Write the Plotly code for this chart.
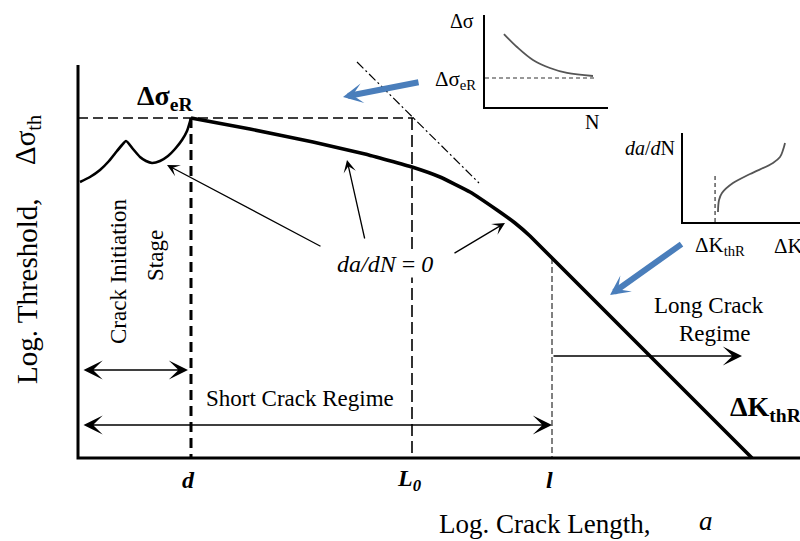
import plotly.graph_objects as go

# ---------------- data (schematic units; origin at the main axes corner) ----------------
# crack-initiation stage curve
init_x = [2, 12, 22, 31, 39, 44, 48, 55, 62, 68, 74, 82, 90, 97, 104, 109, 113]
init_y = [276, 281, 288, 297, 307, 313, 317, 309, 301, 297, 295, 297, 302, 309, 318, 327, 340]
# threshold curve (short crack -> long crack)
main_x = [113, 172, 235, 287, 334, 362, 392, 419, 437, 452, 674]
main_y = [340, 329, 316, 304, 291, 281, 266, 248, 235, 222, 0]
# characteristic values
sigma_eR_level = 340
crack_d = 113
crack_L0 = 334
crack_l = 474
crack_l_level = 200
tangent_x = [279, 401]
tangent_y = [396, 275]
axis_x_end = 722
axis_y_end = 393
tick_pos = [crack_d, crack_L0, crack_l]
tick_text = ["<b><i>d</i></b>", "<b><i>L<sub>0</sub></i></b>", "<b><i>l</i></b>"]

# inset 1: S-N curve
sn_N = [1.54, 2.60, 3.90, 5.28, 6.67, 8.78]
sn_S = [7.93, 6.52, 5.11, 4.24, 3.70, 3.37]
sn_limit = 3.15
sn_limit_end = 9.1
# inset 2: da/dN vs dK
dk = [2.99, 3.08, 3.33, 4.27, 5.73, 7.69, 8.29, 8.55, 8.72]
dadn = [1.12, 2.47, 3.26, 4.38, 5.39, 6.63, 7.30, 8.10, 8.88]
dk_th = 2.74
dk_th_top = 5.5

FONT = "Liberation Serif, Times New Roman, serif"
BLUE = "#4a7ebb"

fig = go.Figure()

# main curves
fig.add_trace(go.Scatter(x=init_x, y=init_y, mode="lines",
                         line=dict(color="black", width=2.6, shape="spline", smoothing=0.6)))
fig.add_trace(go.Scatter(x=main_x, y=main_y, mode="lines",
                         line=dict(color="black", width=3.6, shape="spline", smoothing=0.3)))
# reference lines
fig.add_trace(go.Scatter(x=[0, crack_L0 + 2], y=[sigma_eR_level, sigma_eR_level], mode="lines",
                         line=dict(color="black", width=1.5, dash="10px,5px")))
fig.add_trace(go.Scatter(x=[crack_d, crack_d], y=[sigma_eR_level, 0], mode="lines",
                         line=dict(color="black", width=3, dash="10px,6px")))
fig.add_trace(go.Scatter(x=[crack_L0, crack_L0], y=[sigma_eR_level, 0], mode="lines",
                         line=dict(color="black", width=1.6, dash="12px,5px")))
fig.add_trace(go.Scatter(x=[crack_l, crack_l], y=[crack_l_level, 0], mode="lines",
                         line=dict(color="black", width=1, dash="6px,3px")))
fig.add_trace(go.Scatter(x=tangent_x, y=tangent_y, mode="lines",
                         line=dict(color="black", width=1.2, dash="9px,3px,2px,3px")))
# main axes
fig.add_trace(go.Scatter(x=[0, 0, axis_x_end], y=[axis_y_end, 0, 0], mode="lines",
                         line=dict(color="black", width=3)))

# inset 1
fig.add_trace(go.Scatter(x=sn_N, y=sn_S, mode="lines", xaxis="x2", yaxis="y2",
                         line=dict(color="#555555", width=1.8, shape="spline")))
fig.add_trace(go.Scatter(x=[0, sn_limit_end], y=[sn_limit, sn_limit], mode="lines", xaxis="x2", yaxis="y2",
                         line=dict(color="#333333", width=1.2, dash="4px,3px")))
# inset 2
fig.add_trace(go.Scatter(x=dk, y=dadn, mode="lines", xaxis="x3", yaxis="y3",
                         line=dict(color="#555555", width=1.8, shape="spline")))
fig.add_trace(go.Scatter(x=[dk_th, dk_th], y=[0, dk_th_top], mode="lines", xaxis="x3", yaxis="y3",
                         line=dict(color="#333333", width=1.2, dash="4px,3px")))

ann = []


def text(x, y, s, size, angle=0, xanchor="center", color="black", bg=None):
    a = dict(x=x, y=y, xref="x", yref="y", text=s, showarrow=False, textangle=angle,
             xanchor=xanchor, yanchor="middle",
             font=dict(family=FONT, size=size, color=color))
    if bg:
        a.update(bgcolor=bg, borderpad=0)
    ann.append(a)


def arrow(x0, y0, x1, y1, width, size, color="black", both=False, head=3):
    a = dict(x=x1, y=y1, ax=x0, ay=y0, xref="x", yref="y", axref="x", ayref="y",
             text="", showarrow=True, arrowhead=head, arrowsize=size, arrowwidth=width,
             arrowcolor=color, standoff=0, startstandoff=0)
    if both:
        a.update(arrowside="end+start", startarrowhead=head, startarrowsize=size)
    ann.append(a)


# arrows
arrow(4, 88, 110, 88, 1.6, 2.0, both=True)
arrow(4, 33, 474, 33, 1.6, 2.0, both=True)
arrow(474, 102, 664, 102, 1.6, 2.0)
arrow(244, 211, 89, 293, 1.3, 1.6)
arrow(287, 218, 269, 298, 1.3, 1.6)
arrow(375, 204, 427, 235, 1.3, 1.6)
arrow(342, 376, 265, 361, 6, 0.55, color=BLUE)
arrow(605, 215, 532, 163, 6, 0.55, color=BLUE)

# labels
text(87, 361, "<b>Δσ<sub>eR</sub></b>", 28)
text(-51, 167, "Log. Threshold,", 29, angle=-90)
text(-51, 318, "Δσ<sub>th</sub>", 29, angle=-90)
text(466, -66, "Log. Crack Length,", 27)
text(628, -63, "<i>a</i>", 27)
for p, t in zip(tick_pos, tick_text):
    text(p - 3, -22, t, 24)
text(222, 60, "Short Crack Regime", 23)
text(631, 153, "Long Crack", 23)
text(637, 125, "Regime", 23)
text(307, 194, "<i>da/dN</i> = <i>0</i>", 24, bg="white")
text(40, 186, "Crack Initiation", 23, angle=-90)
text(77, 202, "Stage", 23, angle=-90)
text(650, 50, "<b>ΔK<sub>thR</sub></b>", 28, xanchor="left")
# inset labels
text(384, 437, "Δσ", 20)
text(377, 378, "Δσ<sub>eR</sub>", 21)
text(514, 336, "N", 20)
text(572, 310, "<i>da</i>/<i>d</i>N", 20)
text(642, 212, "ΔK<sub>thR</sub>", 21)
text(694, 212, "ΔK", 21, xanchor="left")

inset_axis = dict(showline=True, linewidth=2, linecolor="black", showgrid=False, zeroline=False,
                  showticklabels=False, ticks="", range=[0, 10], fixedrange=True)

fig.update_layout(
    width=800, height=541,
    margin=dict(l=0, r=0, t=0, b=0),
    paper_bgcolor="white", plot_bgcolor="white",
    showlegend=False,
    annotations=ann,
    xaxis=dict(range=[-78, 722], visible=False, domain=[0, 1], fixedrange=True),
    yaxis=dict(range=[-83, 458], visible=False, domain=[0, 1], fixedrange=True),
    xaxis2=dict(inset_axis, domain=[485 / 800, 608 / 800], anchor="y2"),
    yaxis2=dict(inset_axis, domain=[(541 - 107) / 541, (541 - 15) / 541], anchor="x2"),
    xaxis3=dict(inset_axis, domain=[683 / 800, 1.0], anchor="y3"),
    yaxis3=dict(inset_axis, domain=[(541 - 222) / 541, (541 - 133) / 541], anchor="x3"),
)

fig.write_html("out.html", config={"displayModeBar": False},
               post_script="document.body.style.margin='0';document.body.style.overflow='hidden';")
